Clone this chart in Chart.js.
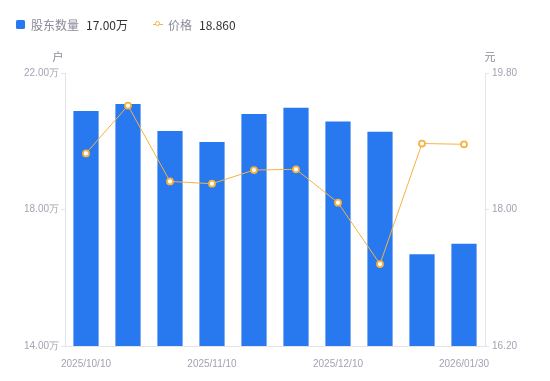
<!DOCTYPE html>
<html><head><meta charset="utf-8">
<script src="https://cdn.jsdelivr.net/npm/chart.js@4/dist/chart.umd.min.js"></script>
<style>
html,body{margin:0;padding:0;background:#fff;}
#wrap{position:relative;width:550px;height:381px;}
#legend{position:absolute;left:16px;top:15px;height:18px;display:flex;align-items:center;font-family:"Noto Sans CJK SC","Liberation Sans",sans-serif;font-size:12px;}
.item{display:flex;align-items:center;margin-right:25px;}
.sq{width:9px;height:9px;background:#2878f0;border-radius:1.5px;margin-right:6px;}
.ln{position:relative;width:10px;height:9px;margin-right:5px;}
.ln:before{content:"";position:absolute;left:0;right:0;top:4px;height:1.5px;background:#f5b340;}
.ln:after{content:"";position:absolute;left:2px;top:1.5px;width:3px;height:3px;border:1.5px solid #f5b340;border-radius:50%;background:#fff;}
.nm{color:#8a8a99;margin-right:7px;}
.vl{color:#333;}
</style></head>
<body><div id="wrap"><canvas id="c" width="550" height="381"></canvas><div id="legend"></div></div>
<script>
const categories = ["2025/10/10","2025/10/20","2025/10/31","2025/11/10","2025/11/20","2025/11/30","2025/12/10","2025/12/31","2026/01/20","2026/01/30"];
const holders = [20.89, 21.09, 20.30, 19.98, 20.80, 20.98, 20.58, 20.28, 16.69, 17.00]; // 万户
const prices = [18.74, 19.37, 18.37, 18.34, 18.52, 18.53, 18.09, 17.28, 18.87, 18.86];
const leftTicks = [14, 18, 22];
const rightTicks = [16.2, 18.0, 19.8];
const shownLabelIdx = [0, 3, 6, 9];

document.getElementById('legend').innerHTML =
 '<div class="item"><span class="sq"></span><span class="nm">股东数量</span><span class="vl">'+holders[holders.length-1].toFixed(2)+'万</span></div>'+
 '<div class="item"><span class="ln"></span><span class="nm">价格</span><span class="vl">'+prices[prices.length-1].toFixed(3)+'</span></div>';

const tickColor = '#a3a3b3';
const axisColor = '#e3e3e8';
const tickFont = {family:"'Liberation Sans', Arial, sans-serif", size:10};

const unitPlugin = {
  id:'units',
  afterDraw(chart){
    const ctx = chart.ctx, a = chart.chartArea;
    ctx.save();
    ctx.fillStyle = '#8a8a99';
    ctx.font = "11px 'Noto Sans CJK SC', sans-serif";
    ctx.textBaseline = 'middle';
    ctx.textAlign = 'center';
    ctx.fillText('户', a.left - 7, 57);
    ctx.fillText('元', a.right + 5, 57);
    ctx.restore();
  }
};

new Chart(document.getElementById('c'), {
  data:{
    labels: categories,
    datasets:[
      {type:'line', label:'价格', data:prices, yAxisID:'y1', borderColor:'#f5b340', borderWidth:1, backgroundColor:'#fff',
       pointRadius:3, pointBorderWidth:1.8, pointBorderColor:'#f5b340', pointBackgroundColor:'#fff', tension:0, order:0},
      {type:'bar', label:'股东数量', data:holders, yAxisID:'y', backgroundColor:'#2878f0', borderWidth:0,
       categoryPercentage:0.6, barPercentage:1.0, order:1}
    ]
  },
  options:{
    responsive:false, animation:false,
    layout:{padding:{top:73,left:0,right:0,bottom:0}},
    plugins:{legend:{display:false}, tooltip:{enabled:false}},
    scales:{
      x:{
        grid:{display:false},
        border:{display:true,color:axisColor},
        ticks:{color:tickColor, font:tickFont, autoSkip:false, maxRotation:0, padding:4,
          callback:(v,i)=> shownLabelIdx.includes(i) ? categories[i] : ''},
        afterFit:s=>{s.height = 35;}
      },
      y:{
        position:'left', min:14, max:22,
        afterBuildTicks:s=>{s.ticks = leftTicks.map(v=>({value:v}));},
        grid:{drawOnChartArea:false, color:axisColor, tickLength:4},
        border:{display:true,color:axisColor},
        ticks:{color:tickColor, font:tickFont, padding:2, callback:v=>v.toFixed(2)+'万'},
        afterFit:s=>{s.width = 65;}
      },
      y1:{
        position:'right', min:16.2, max:19.8,
        afterBuildTicks:s=>{s.ticks = rightTicks.map(v=>({value:v}));},
        grid:{drawOnChartArea:false, color:axisColor, tickLength:4},
        border:{display:true,color:axisColor},
        ticks:{color:tickColor, font:tickFont, padding:3, callback:v=>v.toFixed(2)},
        afterFit:s=>{s.width = 65;}
      }
    }
  },
  plugins:[unitPlugin]
});
</script></body></html>
